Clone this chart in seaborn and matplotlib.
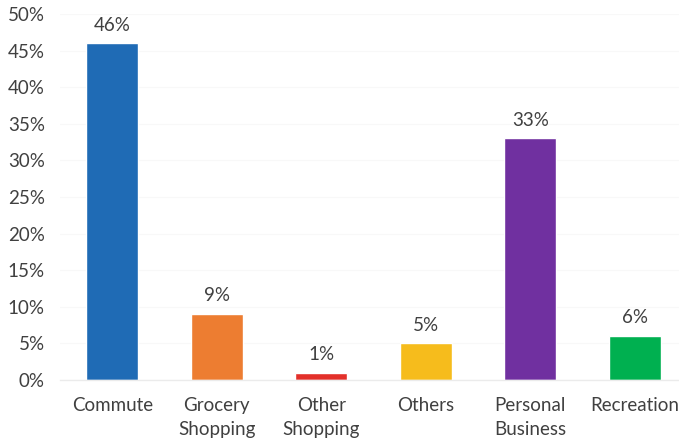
import matplotlib
matplotlib.use("Agg")
import matplotlib.pyplot as plt
import seaborn as sns
import pandas as pd
from matplotlib.ticker import PercentFormatter

categories = ["Commute", "Grocery\nShopping", "Other\nShopping", "Others", "Personal\nBusiness", "Recreation"]
shares = [46, 9, 1, 5, 33, 6]
colors = ["#1f6bb5", "#ed7d31", "#e3302a", "#f6bc1c", "#7030a0", "#00b050"]

df = pd.DataFrame({"category": categories, "share": [v / 100 for v in shares]})

sns.set_style("white")
plt.rcParams["font.family"] = ["Lato", "DejaVu Sans"]
text_color = "#404040"
fs = 13.5

fig = plt.figure(figsize=(6.79, 4.42), dpi=100)
ax = fig.add_axes([60 / 679, 62 / 442, 627 / 679, 366 / 442])

sns.barplot(data=df, x="category", y="share", hue="category", palette=colors,
            width=0.5, legend=False, ax=ax, saturation=1)

ax.set_ylim(0, 0.5)
ax.set_xlim(-0.5, 5.5)
ax.set_yticks([i * 0.05 for i in range(11)])
ax.yaxis.set_major_formatter(PercentFormatter(1.0, decimals=0))
ax.grid(axis="y", color="#f8f8f8", linewidth=0.8)
ax.set_axisbelow(True)
for s in ["top", "right", "left"]:
    ax.spines[s].set_visible(False)
ax.spines["bottom"].set_color("#ebebeb")
ax.spines["bottom"].set_linewidth(1.0)
ax.set_xlabel("")
ax.set_ylabel("")
ax.tick_params(axis="y", length=0, pad=11, labelsize=fs, labelcolor=text_color)
ax.tick_params(axis="x", length=0, pad=12, labelsize=fs, labelcolor=text_color)
for lbl in ax.get_xticklabels():
    lbl.set_linespacing(1.5)
    lbl.set_verticalalignment("top")

for i, v in enumerate(shares):
    ax.annotate(f"{v}%", xy=(i, v / 100), xytext=(0, 7), textcoords="offset points",
                ha="center", va="bottom", fontsize=fs, color=text_color)

fig.savefig("out.png", dpi=100)
